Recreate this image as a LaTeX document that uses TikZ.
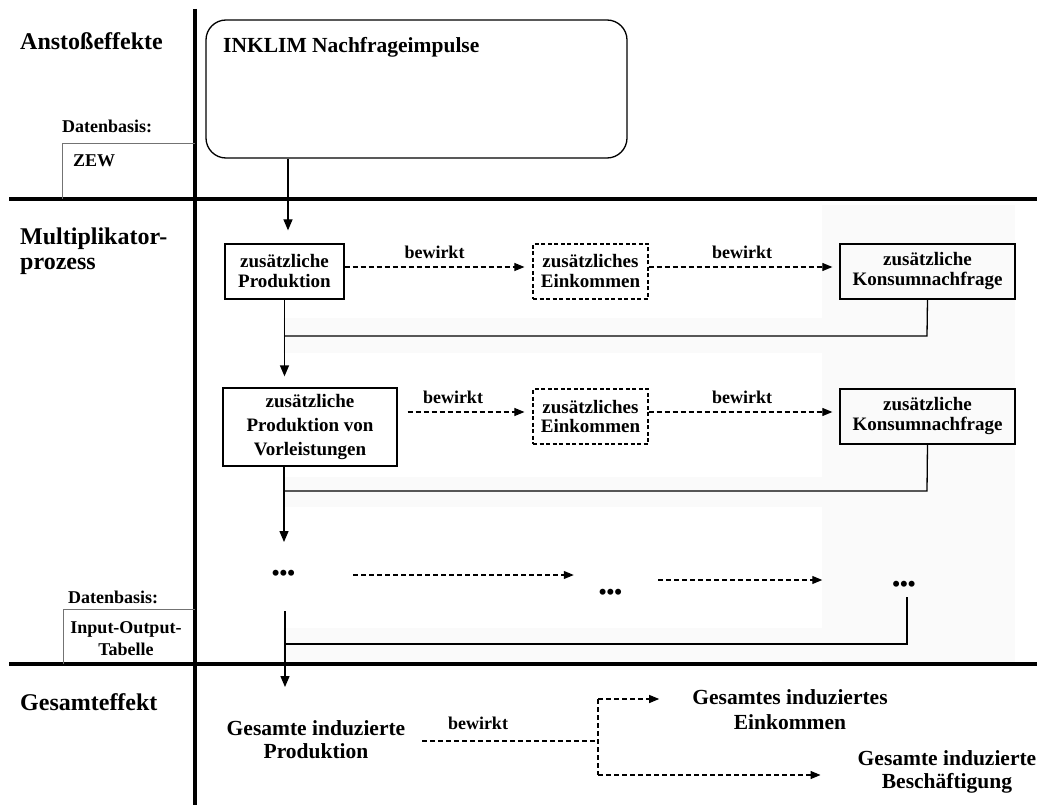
\documentclass[tikz,border=0pt]{standalone}
\usepackage{fontspec}
\setmainfont{Liberation Serif}
\usetikzlibrary{arrows.meta,calc}
\begin{document}
\begin{tikzpicture}[x=1pt,y=-1pt,
 every node/.style={inner sep=0pt,font=\bfseries\fontsize{18}{20}\selectfont,align=center},
 sbox/.style={draw,line width=1.3pt,font=\bfseries\fontsize{19}{20}\selectfont},
 dbox/.style={draw,line width=1.2pt,dash pattern=on 4pt off 2.5pt,font=\bfseries\fontsize{19}{20}\selectfont},
 conn/.style={line width=1.3pt},
 arr/.style={conn,-{Triangle[length=11pt,width=9pt]}},
 darr/.style={line width=1.1pt,dash pattern=on 5pt off 3pt,-{Triangle[length=10pt,width=8pt]}},
 dline/.style={line width=1.1pt,dash pattern=on 5pt off 3pt},
 heavy/.style={line width=4pt},
 shadearea/.style={fill=black!2},
 head/.style={font=\bfseries\fontsize{24}{25}\selectfont,align=left},
 bigtext/.style={font=\bfseries\fontsize{21.5}{23}\selectfont},
 dotstext/.style={font=\bfseries\fontsize{22}{22}\selectfont},
 basebox/.style={draw,line width=0.8pt,black!55},
]
\useasboundingbox (0,0) rectangle (1037,805);
% faint dotted background areas
\fill[shadearea] (822,205) rectangle (1015,662);
\fill[shadearea] (283,318) rectangle (822,353);
\fill[shadearea] (283,477) rectangle (822,507);
\fill[shadearea] (283,628) rectangle (822,660);

% dividers
\draw[heavy] (195,9) -- (195,805);
\draw[heavy] (9,199) -- (1037,199);
\draw[heavy] (9,664) -- (1037,664);

% left column
\node[head,anchor=base west] (h1) at (20,50) {Anstoßeffekte};
\node[head,anchor=west] (h2) at (20,251) {Multiplikator-\\prozess};
\node[head,anchor=base west] (h3) at (20,710) {Gesamteffekt};
\node[anchor=base west] (db1) at (62,133) {Datenbasis:};
\node[anchor=base west] (zew) at (73,167) {ZEW};
\draw[basebox] (62,199) -- (62,143) -- (195,143);
\node[anchor=base west] (db2) at (68,603) {Datenbasis:};
\node[font=\bfseries\fontsize{18}{22}\selectfont] (iot) at (126,639) {Input-Output-\\Tabelle};
\draw[basebox] (63,664) -- (63,609) -- (195,609);

% top box
\node[draw,line width=1.3pt,rounded corners=20pt,minimum width=421pt,minimum height=138pt] (inklim) at (416.5,89) {};
\node[bigtext,anchor=base west] (inklimt) at (223,53) {INKLIM Nachfrageimpulse};

% row 1
\node[sbox,minimum width=119pt,minimum height=55pt] (b1) at (284.5,271.5) {zusätzliche\\Produktion};
\node[dbox,minimum width=115pt,minimum height=55pt] (b2) at (590.5,271.5) {zusätzliches\\Einkommen};
\node[sbox,minimum width=175pt,minimum height=55pt] (b3) at (927.5,271.5) {zusätzliche\\Konsumnachfrage};
\node (bw1) at (434.5,252) {bewirkt};
\node (bw2) at (742,252) {bewirkt};

% row 2
\node[sbox,minimum width=174pt,minimum height=78pt,font=\bfseries\fontsize{19}{24}\selectfont] (b4) at (310,427) {zusätzliche\\Produktion von\\Vorleistungen};
\node[dbox,minimum width=115pt,minimum height=55pt] (b5) at (590.5,416.5) {zusätzliches\\Einkommen};
\node[sbox,minimum width=175pt,minimum height=55pt] (b6) at (927.5,416.5) {zusätzliche\\Konsumnachfrage};
\node (bw3) at (453,397) {bewirkt};
\node (bw4) at (742,397) {bewirkt};

% row 3
\node[dotstext] (d1) at (283.5,575) {•••};
\node[dotstext] (d2) at (610.5,594) {•••};
\node[dotstext] (d3) at (904,586) {•••};

% bottom
\node[bigtext] (ges) at (316,740) {Gesamte induzierte\\Produktion};
\node (bw5) at (478,723) {bewirkt};
\node[font=\bfseries\fontsize{21.5}{25}\selectfont] (ein) at (790,709.5) {Gesamtes induziertes\\Einkommen};
\node[bigtext] (besch) at (947,771.5) {Gesamte induzierte\\Beschäftigung};

% coordinates
\coordinate (x1) at (288,0);
\coordinate (x2) at (284,0);
\coordinate (x3) at (285,0);
\coordinate (r1) at (927,336);
\coordinate (r2) at (927,491);
\coordinate (r3) at (907,644);
\coordinate (t1) at (284,542);
\coordinate (s4) at (285,611);
\coordinate (t4) at (285,687);
\coordinate (sp) at (598,741);
\coordinate (up) at (598,699);
\coordinate (dn) at (598,775);

% connectors
\draw[arr,shorten >=13pt] (inklim.south -| x1) -- (b1.north -| x1);
\draw[darr,shorten >=8pt] ($(b1.east)+(0,-4.5)$) -- ($(b2.west)+(0,-4.5)$);
\draw[darr,shorten >=7pt] ($(b2.east)+(0,-4.5)$) -- ($(b3.west)+(0,-4.5)$);
\draw[conn] (b3.south) -- (r1) -- (r1 -| b1.south);
\draw[arr,shorten >=11pt] (b1.south) -- (b1.south |- b4.north);

\draw[darr,shorten <=10pt,shorten >=8pt] ($(b4.east |- b5.west)+(0,-4.5)$) -- ($(b5.west)+(0,-4.5)$);
\draw[darr,shorten >=7pt] ($(b5.east)+(0,-4.5)$) -- ($(b6.west)+(0,-4.5)$);
\draw[conn] (b6.south) -- (r2) -- (r2 -| x2);
\draw[arr] (b4.south -| x2) -- (t1);

\draw[darr,shorten <=58pt,shorten >=25pt] (d1.east) -- (d1.east -| d2.west);
\draw[darr] ($(d2.east)+(36,-14)$) -- ($(d3.west)+(-70,-6)$);
\draw[conn] ($(d3.center)+(3,11)$) -- (r3) -- (r3 -| x3);
\draw[arr] (s4) -- (t4);

\draw[dline,shorten <=17pt] (ges.east |- sp) -- (sp);
\draw[dline] (up) -- (dn);
\draw[darr,shorten >=33pt] (up) -- (up -| ein.west);
\draw[darr,shorten >=37pt] (dn) -- (dn -| besch.west);
\end{tikzpicture}
\end{document}
